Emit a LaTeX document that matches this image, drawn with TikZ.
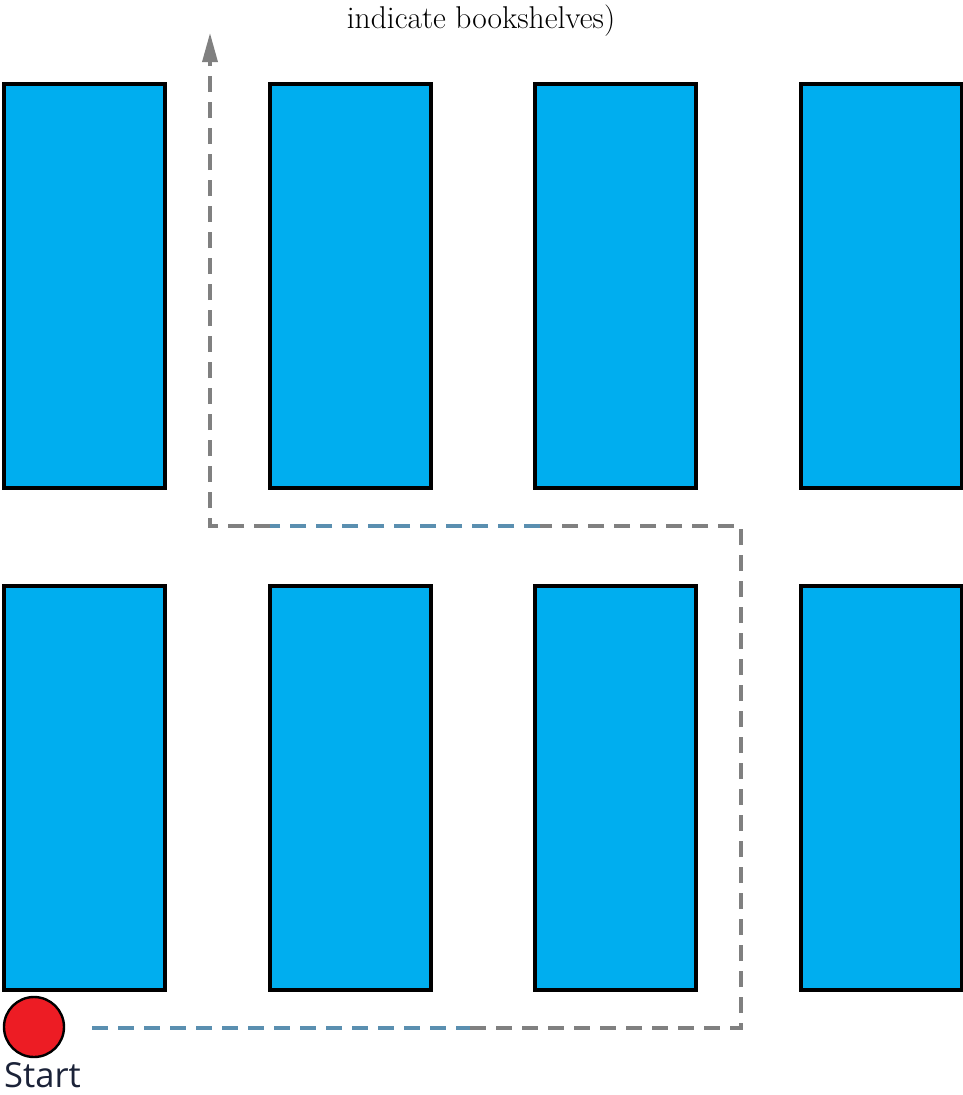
\documentclass[tikz,border=0pt]{standalone}
\usepackage{fontspec}
\newfontfamily\startfont{Open Sans}
\usetikzlibrary{arrows.meta}
\definecolor{shelfblue}{HTML}{00AEEF}
\definecolor{startred}{HTML}{ED1C24}
\definecolor{routegray}{HTML}{808080}
\definecolor{routeblue}{HTML}{5A8FB0}
\definecolor{navytext}{HTML}{1B2238}
\tikzset{
  shelf/.style={draw=black, line width=3.4pt, fill=shelfblue},
  route/.style={draw=routegray, line width=3.4pt, dash pattern=on 16pt off 10pt},
  routeb/.style={draw=routeblue, line width=3.4pt, dash pattern=on 16pt off 10pt},
}
\begin{document}
\begin{tikzpicture}[x=1pt,y=-1pt]
\useasboundingbox (0,0) rectangle (963,1095);
% bookshelves
\foreach \c/\x in {1/4,2/270,3/535,4/801}{
  \foreach \r/\y in {1/84,2/586}{
    \draw[shelf] (\x,\y) rectangle ++(161,404);
  }
}
% title text
\node[font=\fontsize{31.5}{36}\selectfont, anchor=base] (title) at (481,28) {indicate bookshelves)};
% start
\node[circle, draw=black, line width=2.4pt, fill=startred, minimum size=60pt, inner sep=0pt] (start) at (34,1027) {};
\node[font=\startfont\fontsize{34.5}{40}\selectfont, text=navytext, anchor=base west, inner sep=0pt] (startlbl) at (4,1087) {Start};
% route
\coordinate (p0) at (92,1028);
\coordinate (pm1) at (470,1028);
\coordinate (p1) at (741,1028);
\coordinate (p2) at (741,526);
\coordinate (pm2) at (540,526);
\coordinate (pm3) at (270,526);
\coordinate (p3) at (210,526);
\coordinate (p4) at (210,33);
\draw[routeb] (p0) -- (pm1);
\draw[route] (pm1) -- (p1) -- (p2) -- (pm2);
\draw[routeb] (pm2) -- (pm3);
\draw[route, -{Triangle[length=29pt,width=15pt]}] (pm3) -- (p3) -- (p4);
\end{tikzpicture}
\end{document}
